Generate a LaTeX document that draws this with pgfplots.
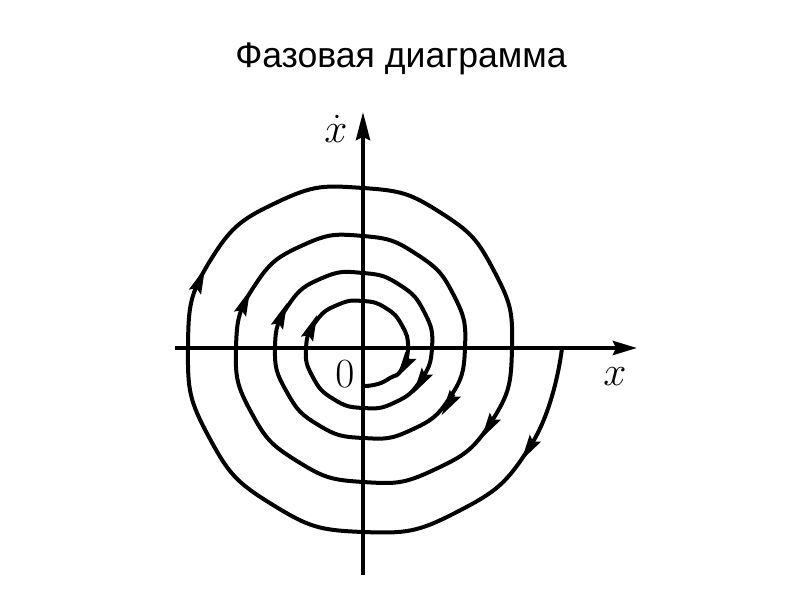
\documentclass[border=0pt]{standalone}
\usepackage{fontspec}
\newfontfamily\titlefont{Liberation Sans}
\usepackage{pgfplots}
\pgfplotsset{compat=1.18}
\usetikzlibrary{arrows.meta}
\begin{document}
\begin{tikzpicture}
\begin{axis}[
  x=0.5pt, y=0.5pt,
  xmin=-363, xmax=437, ymin=-252, ymax=348,
  hide axis, clip=false,
]
% coordinate axes
\addplot[line width=2pt, -{Stealth[length=12pt,width=7pt,inset=1.5pt]}] coordinates {(-188,0) (274,0)};
\addplot[line width=2pt, -{Stealth[length=14pt,width=7pt,inset=1.5pt]}] coordinates {(0,-227) (0,236)};
% phase trajectory (spiral)
\addplot[line width=2pt, smooth, tension=0.85] coordinates {
(199,0) (168.0,-97.0) (94.5,-163.7) (0,-184) (-90.5,-156.7) (-154.1,-89.0)
(-175,0) (-152.4,88.0) (-84.5,146.4) (0,160) (78.0,135.1) (131.6,76.0)
(149,0) (128.2,-74.0) (70.5,-122.1) (0,-134) (-65.5,-113.4) (-111.7,-64.5)
(-127,0) (-108.3,62.5) (-59.5,103.1) (0,112) (54.0,93.5) (90.9,52.5)
(102,0) (86.6,-50.0) (47.5,-82.3) (0,-90) (-44.5,-77.1) (-76.2,-44.0)
(-88,0) (-74.5,43.0) (-40.5,70.1) (0,75) (36.5,63.2) (61.5,35.5)
(69,0) (57.2,-33.0) (31.5,-54.6) (0,-60) (-29.5,-51.1) (-50.2,-29.0)
(-57,0) (-46.8,27.0) (-25.0,43.3) (0,47) (23.0,39.8) (39.0,22.5)
(45,0) (38.1,-22.0) (27,-30) (15,-36) (2,-38)
};
% direction arrows
\addplot[quiver={u=\thisrow{u},v=\thisrow{v},
    every arrow/.append style={-{Stealth[length=13pt,width=6.5pt,inset=2pt]}}},
  draw=black, line width=1pt] table {
x y u v
171.5 -91.6 -13.0 -20.8
131.5 -69.6 -13.0 -20.8
91.5 -46.6 -13.0 -20.8
63.5 -24.6 -13.0 -20.8
46.0 -10.5 -12.0 -19.0
-168.0 56.0 10.0 24.0
-123.0 34.0 10.0 24.0
-86.0 21.0 10.0 24.0
-56.0 9.0 10.0 24.0
};
\node[font=\titlefont\fontsize{17.8}{21}\selectfont, anchor=base] at (axis cs:38,280) {Фазовая диаграмма};
\node at (axis cs:252,-29) {\fontsize{20}{24}\selectfont $x$};
\node at (axis cs:-27,219) {\fontsize{20}{24}\selectfont $\dot{x}$};
\node at (axis cs:-18,-26) {\fontsize{20}{24}\selectfont $0$};
\coordinate (bl) at (axis cs:-363,-252);
\coordinate (tr) at (axis cs:437,348);
\end{axis}
\pgfresetboundingbox
\path[use as bounding box] (bl) rectangle (tr);
\end{tikzpicture}
\end{document}
